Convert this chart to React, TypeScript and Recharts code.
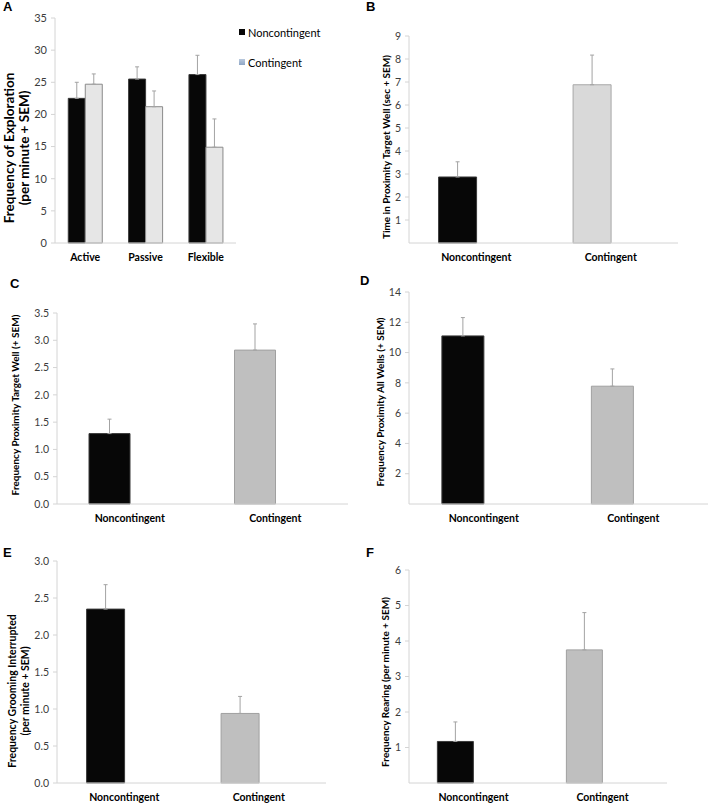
import React from "react";
import { BarChart, Bar, XAxis, YAxis, ErrorBar, Cell } from "recharts";

// ---------- Data ----------
const explorationCategories = ["Active", "Passive", "Flexible"];
const seriesNames = ["Noncontingent", "Contingent"];
const explorationNoncontingent = [22.5, 25.5, 26.2];
const explorationNoncontingentSem = [2.5, 1.9, 3.0];
const explorationContingent = [24.7, 21.2, 14.9];
const explorationContingentSem = [1.6, 2.45, 4.4];

const conditions = ["Noncontingent", "Contingent"];
const timeTargetWell = [2.87, 6.88];
const timeTargetWellSem = [0.66, 1.29];
const freqTargetWell = [1.29, 2.82];
const freqTargetWellSem = [0.265, 0.48];
const freqAllWells = [11.1, 7.78];
const freqAllWellsSem = [1.21, 1.14];
const groomingInterrupted = [2.35, 0.94];
const groomingInterruptedSem = [0.33, 0.23];
const rearing = [1.17, 3.75];
const rearingSem = [0.55, 1.05];

const ticksA = [0, 5, 10, 15, 20, 25, 30, 35];
const ticksB = [1, 2, 3, 4, 5, 6, 7, 8, 9];
const ticksC = [0, 0.5, 1, 1.5, 2, 2.5, 3, 3.5];
const ticksD = [2, 4, 6, 8, 10, 12, 14];
const ticksE = [0, 0.5, 1, 1.5, 2, 2.5, 3];
const ticksF = [1, 2, 3, 4, 5, 6];

// ---------- Styles ----------
const FONT = "Lato, 'Open Sans', sans-serif";
const BLACK = "#070707";
const BLACK_STROKE = "#3a3a3a";
const AXIS = "#d4d4d4";
const ERR = "#a3a3a3";
const TICK_FILL = "#3c3c3c";

const panelA = {
  box: { x: 0, y: 0, h: 273 },
  margin: { top: 18, right: 121, bottom: 0, left: 25 },
};

const singlePanels = [
  {
    letter: "B",
    letterPos: { x: 9, y: 11 },
    box: { x: 357, y: 0, h: 273 },
    margin: { top: 36, right: 36, bottom: 0, left: 22 },
    values: timeTargetWell,
    sems: timeTargetWellSem,
    ticks: ticksB,
    domain: [0, 9],
    fixed: false,
    grey: "#d9d9d9",
    greyStroke: "#a8a8a8",
    title: ["Time in Proximity Target Well (sec + SEM)"],
    titlePos: { x: 29, y: 147 },
    titleSize: 10,
  },
  {
    letter: "C",
    letterPos: { x: 10, y: 23 },
    box: { x: 0, y: 265, h: 269 },
    margin: { top: 48, right: 9, bottom: 0, left: 27 },
    values: freqTargetWell,
    sems: freqTargetWellSem,
    ticks: ticksC,
    domain: [0, 3.5],
    fixed: true,
    grey: "#bfbfbf",
    greyStroke: "#a0a0a0",
    title: ["Frequency Proximity Target Well (+ SEM)"],
    titlePos: { x: 15, y: 140 },
    titleSize: 10,
  },
  {
    letter: "D",
    letterPos: { x: 3, y: 20 },
    box: { x: 357, y: 265, h: 269 },
    margin: { top: 27, right: 6, bottom: 0, left: 22 },
    values: freqAllWells,
    sems: freqAllWellsSem,
    ticks: ticksD,
    domain: [0, 14],
    fixed: false,
    grey: "#bfbfbf",
    greyStroke: "#a0a0a0",
    title: ["Frequency Proximity All Wells (+ SEM)"],
    titlePos: { x: 23, y: 137 },
    titleSize: 10,
  },
  {
    letter: "E",
    letterPos: { x: 3, y: 22 },
    box: { x: 0, y: 535, h: 278 },
    margin: { top: 26, right: 31, bottom: 0, left: 27 },
    values: groomingInterrupted,
    sems: groomingInterruptedSem,
    ticks: ticksE,
    domain: [0, 3],
    fixed: true,
    grey: "#bfbfbf",
    greyStroke: "#a0a0a0",
    title: ["Frequency Grooming Interrupted", "(per minute + SEM)"],
    titlePos: { x: 11.5, y: 156 },
    titleSize: 10.5,
  },
  {
    letter: "F",
    letterPos: { x: 9, y: 22 },
    box: { x: 357, y: 535, h: 278 },
    margin: { top: 35, right: 47, bottom: 0, left: 22 },
    values: rearing,
    sems: rearingSem,
    ticks: ticksF,
    domain: [0, 6],
    fixed: false,
    grey: "#bfbfbf",
    greyStroke: "#a0a0a0",
    title: ["Frequency Rearing (per minute + SEM)"],
    titlePos: { x: 28, y: 147 },
    titleSize: 10,
  },
];

function Overlay({ w, h, letter, letterPos, title, titlePos, titleSize, lineGap }: any) {
  return (
    <svg
      width={w}
      height={h}
      style={{ position: "absolute", left: 0, top: 0, pointerEvents: "none", overflow: "visible" }}
    >
      <text
        x={letterPos.x}
        y={letterPos.y}
        fontFamily="'Liberation Sans', Arial, sans-serif"
        fontWeight="bold"
        fontSize={13}
        fill="#000"
      >
        {letter}
      </text>
      {title.map((t: string, i: number) => {
        const cx = titlePos.x + i * lineGap;
        return (
          <text
            key={i}
            x={cx}
            y={titlePos.y}
            transform={`rotate(-90, ${cx}, ${titlePos.y})`}
            textAnchor="middle"
            dominantBaseline="central"
            fontFamily={FONT}
            fontWeight="bold"
            fontSize={titleSize}
            fill="#000"
          >
            {t}
          </text>
        );
      })}
    </svg>
  );
}

function PanelA() {
  const data = explorationCategories.map((c, i) => ({
    name: c,
    non: explorationNoncontingent[i],
    nonSem: [0, explorationNoncontingentSem[i]],
    con: explorationContingent[i],
    conSem: [0, explorationContingentSem[i]],
  }));
  return (
    <div style={{ position: "absolute", left: panelA.box.x, top: panelA.box.y, width: 357, height: panelA.box.h }}>
      <BarChart
        width={357}
        height={panelA.box.h}
        data={data}
        margin={panelA.margin}
        barCategoryGap="22%"
        barGap={0}
      >
        <XAxis
          dataKey="name"
          height={30}
          axisLine={{ stroke: AXIS }}
          tickLine={false}
          tickMargin={5}
          tick={{ fill: "#000", fontSize: 10.5, fontWeight: "bold" }}
          interval={0}
        />
        <YAxis
          width={30}
          domain={[0, 35]}
          ticks={ticksA}
          axisLine={{ stroke: AXIS }}
          tickLine={{ stroke: AXIS }}
          tickSize={4}
          tickMargin={4}
          tick={{ fill: TICK_FILL, fontSize: 11 }}
        />
        <Bar dataKey="non" name={seriesNames[0]} fill={BLACK} stroke={BLACK_STROKE} strokeWidth={1} isAnimationActive={false}>
          <ErrorBar dataKey="nonSem" width={2} stroke={ERR} strokeWidth={1} direction="y" />
        </Bar>
        <Bar dataKey="con" name={seriesNames[1]} fill="#e6e6e6" stroke="#8a8a8a" strokeWidth={1} isAnimationActive={false}>
          <ErrorBar dataKey="conSem" width={2} stroke={ERR} strokeWidth={1} direction="y" />
        </Bar>
      </BarChart>
      <Overlay
        w={357}
        h={panelA.box.h}
        letter="A"
        letterPos={{ x: 3, y: 11 }}
        title={["Frequency of Exploration", "(per minute +  SEM)"]}
        titlePos={{ x: 9, y: 148 }}
        titleSize={13.5}
        lineGap={15}
      />
      <div style={{ position: "absolute", left: 239, top: 24, fontFamily: FONT, fontSize: 11, color: "#000" }}>
        {seriesNames.map((n, i) => (
          <div key={n} style={{ display: "flex", alignItems: "center", height: 16, marginBottom: i === 0 ? 14 : 0 }}>
            <span
              style={{
                display: "inline-block",
                width: 6,
                height: 6,
                marginRight: 3,
                background: i === 0 ? BLACK : "linear-gradient(#b9c9dd, #8ea6c6)",
              }}
            />
            <span>{n}</span>
          </div>
        ))}
      </div>
    </div>
  );
}

function SinglePanel({ cfg }: any) {
  const data = conditions.map((c, i) => ({
    name: c,
    value: cfg.values[i],
    sem: [0, cfg.sems[i]],
  }));
  return (
    <div style={{ position: "absolute", left: cfg.box.x, top: cfg.box.y, width: 357, height: cfg.box.h }}>
      <BarChart
        width={357}
        height={cfg.box.h}
        data={data}
        margin={cfg.margin}
        barCategoryGap="22%"
        barGap={0}
      >
        <XAxis
          dataKey="name"
          height={30}
          axisLine={{ stroke: AXIS }}
          tickLine={false}
          tickMargin={5}
          tick={{ fill: "#000", fontSize: 10.5, fontWeight: "bold" }}
          interval={0}
        />
        <YAxis
          width={30}
          domain={cfg.domain}
          ticks={cfg.ticks}
          axisLine={{ stroke: AXIS }}
          tickLine={{ stroke: AXIS }}
          tickSize={4}
          tickMargin={4}
          tick={{ fill: TICK_FILL, fontSize: 10.5 }}
          tickFormatter={(v: number) => (cfg.fixed ? v.toFixed(1) : String(v))}
        />
        <Bar dataKey="value" isAnimationActive={false} strokeWidth={1}>
          {data.map((d, i) => (
            <Cell
              key={d.name}
              fill={i === 0 ? BLACK : cfg.grey}
              stroke={i === 0 ? BLACK_STROKE : cfg.greyStroke}
            />
          ))}
          <ErrorBar dataKey="sem" width={2} stroke={ERR} strokeWidth={1} direction="y" />
        </Bar>
        <Bar dataKey="unused" isAnimationActive={false} fill="none" />
      </BarChart>
      <Overlay
        w={357}
        h={cfg.box.h}
        letter={cfg.letter}
        letterPos={cfg.letterPos}
        title={cfg.title}
        titlePos={cfg.titlePos}
        titleSize={cfg.titleSize}
        lineGap={13}
      />
    </div>
  );
}

export default function App() {
  return (
    <div
      style={{
        position: "absolute",
        left: 0,
        top: 0,
        width: 714,
        height: 803,
        overflow: "hidden",
        background: "#fff",
        fontFamily: FONT,
      }}
    >
      <PanelA />
      {singlePanels.map((cfg) => (
        <SinglePanel key={cfg.letter} cfg={cfg} />
      ))}
    </div>
  );
}
